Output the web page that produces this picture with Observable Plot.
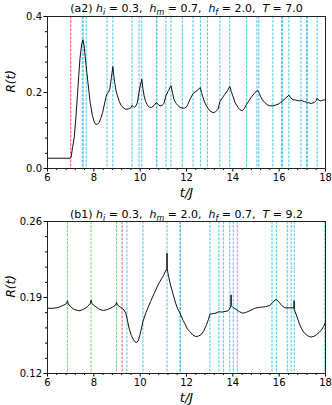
<!DOCTYPE html>
<html><head><meta charset="utf-8">
<script src="https://cdn.jsdelivr.net/npm/d3@7"></script>
<script src="https://cdn.jsdelivr.net/npm/@observablehq/plot@0.6"></script>
<style>body{margin:0;background:#fff}svg{display:block}</style>
</head><body><div id="chart"></div>
<script>
// ---------- data ----------
const tTop = [6.0,6.5,6.98,7.02,7.08,7.15,7.22,7.29,7.35,7.40,7.47,7.53,7.58,7.65,7.73,7.84,7.94,8.02,8.09,8.16,8.23,8.30,8.38,8.45,8.52,8.57,8.63,8.69,8.76,8.82,8.86,8.90,8.96,9.02,9.10,9.17,9.28,9.38,9.50,9.60,9.65,9.70,9.75,9.82,9.88,9.95,10.01,10.07,10.12,10.17,10.24,10.31,10.40,10.50,10.60,10.70,10.78,10.86,10.95,11.03,11.11,11.22,11.33,11.40,11.46,11.53,11.61,11.72,11.82,11.92,12.00,12.06,12.15,12.28,12.45,12.60,12.65,12.71,12.80,12.90,13.02,13.15,13.25,13.36,13.44,13.55,13.65,13.77,13.87,13.93,14.00,14.10,14.22,14.30,14.40,14.50,14.59,14.70,14.79,14.92,15.04,15.10,15.16,15.25,15.37,15.48,15.59,15.73,15.85,15.95,16.05,16.15,16.28,16.42,16.50,16.59,16.72,16.88,16.95,17.09,17.22,17.38,17.52,17.60,17.64,17.70,17.78,17.89,18.0];
const rTop = [0.027,0.027,0.027,0.030,0.055,0.080,0.130,0.191,0.245,0.288,0.325,0.339,0.323,0.280,0.235,0.174,0.139,0.122,0.116,0.117,0.121,0.132,0.147,0.167,0.187,0.197,0.200,0.209,0.240,0.268,0.245,0.226,0.205,0.191,0.176,0.167,0.159,0.156,0.157,0.160,0.166,0.163,0.161,0.165,0.174,0.200,0.220,0.235,0.210,0.191,0.176,0.167,0.161,0.161,0.166,0.174,0.168,0.165,0.166,0.172,0.191,0.205,0.218,0.198,0.182,0.173,0.167,0.161,0.159,0.159,0.162,0.169,0.182,0.197,0.205,0.213,0.200,0.187,0.172,0.161,0.151,0.147,0.149,0.156,0.176,0.186,0.195,0.205,0.216,0.203,0.191,0.173,0.161,0.155,0.152,0.158,0.169,0.179,0.187,0.197,0.205,0.203,0.195,0.183,0.174,0.168,0.165,0.165,0.167,0.169,0.173,0.178,0.185,0.193,0.186,0.181,0.180,0.178,0.179,0.176,0.174,0.171,0.174,0.179,0.185,0.180,0.178,0.180,0.181];
const redTop = [7.0];
const cyanTop = [7.50,7.54,7.67,8.57,8.82,9.65,9.95,10.07,10.70,10.72,11.11,11.33,11.82,12.28,12.60,12.90,13.44,13.87,14.59,15.04,15.12,15.73,16.10,16.15,16.42,16.94,17.18,17.22,17.64];

const tBot = [6.0,6.2,6.4,6.55,6.7,6.82,6.86,6.90,7.0,7.15,7.36,7.55,7.72,7.84,7.88,7.92,8.05,8.25,8.42,8.6,8.8,8.94,8.98,9.02,9.12,9.22,9.30,9.38,9.45,9.52,9.62,9.71,9.78,9.85,9.92,9.99,10.06,10.12,10.25,10.45,10.63,10.81,11.0,11.10,11.155,11.16,11.165,11.22,11.31,11.42,11.53,11.62,11.72,11.85,11.92,12.04,12.14,12.27,12.40,12.52,12.64,12.75,12.86,12.95,13.01,13.10,13.22,13.32,13.40,13.51,13.60,13.70,13.79,13.86,13.92,13.925,13.93,14.0,14.07,14.18,14.28,14.43,14.55,14.65,14.80,14.94,15.10,15.23,15.40,15.59,15.73,15.82,15.88,15.95,16.02,16.12,16.24,16.39,16.64,16.645,16.65,16.74,16.89,17.00,17.10,17.23,17.36,17.50,17.61,17.72,17.83,17.92,18.0];
const rBot = [0.1802,0.1800,0.1805,0.1815,0.1830,0.1845,0.1870,0.1842,0.1815,0.1790,0.1777,0.1790,0.1815,0.1843,0.1875,0.1843,0.1820,0.1790,0.1780,0.1790,0.1810,0.1830,0.1855,0.1830,0.1815,0.1800,0.1785,0.1755,0.1690,0.1617,0.1550,0.1510,0.1490,0.1485,0.1505,0.1556,0.1620,0.1680,0.1760,0.1863,0.1950,0.2032,0.2100,0.2145,0.2168,0.2308,0.2168,0.2100,0.2016,0.1930,0.1848,0.1795,0.1755,0.1690,0.1663,0.1610,0.1587,0.1555,0.1540,0.1545,0.1560,0.1595,0.1648,0.1700,0.1746,0.1750,0.1754,0.1760,0.1770,0.1765,0.1770,0.1772,0.1777,0.1795,0.1826,0.1924,0.1826,0.1810,0.1800,0.1785,0.1770,0.1755,0.1762,0.1770,0.1785,0.1800,0.1808,0.1811,0.1815,0.1826,0.1857,0.1875,0.1884,0.1868,0.1850,0.1825,0.1805,0.1805,0.1805,0.1870,0.1790,0.1740,0.1648,0.1600,0.1570,0.1548,0.1535,0.1542,0.1557,0.1577,0.1602,0.1635,0.1672];
const greenBot = [6.86,7.88,8.98];
const redBot = [9.22];
const cyanBot = [9.43,10.12,11.16,11.72,11.74,13.01,13.40,13.60,13.87,14.02,14.19,15.69,15.88,16.35,16.52,16.65,17.97];

const xTicks = [6,8,10,12,14,16,18];
const xMinor = [6.4,6.8,7.2,7.6,8.4,8.8,9.2,9.6,10.4,10.8,11.2,11.6,12.4,12.8,13.2,13.6,14.4,14.8,15.2,15.6,16.4,16.8,17.2,17.6];
const yTicksTop = [0,0.2,0.4];
const yMinorTop = [0.04,0.08,0.12,0.16,0.24,0.28,0.32,0.36];
const yTicksBot = [0.12,0.19,0.26];
const yMinorBot = [0.134,0.148,0.162,0.176,0.204,0.218,0.232,0.246];

const titleTop = [["(a2) ",""],["h","i"],["i","s"],[" = 0.3,  ",""],["h","i"],["m","s"],[" = 0.7,  ",""],["h","i"],["f","s"],[" = 2.0,  ",""],["T","i"],[" = 7.0",""]];
const titleBot = [["(b1) ",""],["h","i"],["i","s"],[" = 0.3,  ",""],["h","i"],["m","s"],[" = 2.0,  ",""],["h","i"],["f","s"],[" = 0.7,  ",""],["T","i"],[" = 9.2",""]];

const CYAN = "#33bdf2", RED = "#f45a5a", GREEN = "#5cd05c";
const FONT = "DejaVu Sans";

function panel({t, r, height, marginTop, titleDy, yDomain, yTicks, yMinor, yFmt, lines, title}) {
  const plain = title.map(d => d[0]).join("");
  const svg = Plot.plot({
    width: 332, height, marginLeft: 47, marginRight: 7, marginTop, marginBottom: 32,
    style: {fontFamily: FONT, fontSize: "10px", color: "#000", background: "#fff"},
    x: {domain: [6, 18], label: null},
    y: {domain: yDomain, label: null},
    marks: [
      ...lines.map(([vals, col, w]) => Plot.ruleX(vals, {x: d => d, stroke: col, strokeWidth: w, strokeDasharray: "2.8,1.3"})),
      Plot.line(t.map((d, i) => [d, r[i]]), {x: d => d[0], y: d => d[1], stroke: "#111", strokeWidth: 1}),
      Plot.axisX(xTicks, {tickSize: 3.5, tickPadding: 1.5, stroke: "#000", label: null, fontSize: 10}),
      Plot.axisX(xMinor, {tickSize: 2, tickFormat: () => "", stroke: "#000", label: null}),
      Plot.axisY(yTicks, {tickSize: 3.5, tickPadding: 2, tickFormat: d3.format(yFmt), stroke: "#000", label: null, fontSize: 10}),
      Plot.axisY(yMinor, {tickSize: 2, tickFormat: () => "", stroke: "#000", label: null}),
      Plot.frame({stroke: "#222", strokeWidth: 1}),
      Plot.text([plain], {frameAnchor: "top", lineAnchor: "middle", dy: titleDy, fontSize: 11, fill: "#000"}),
      Plot.text(["R(t)"], {frameAnchor: "left", lineAnchor: "middle", dx: -36, rotate: -90, fontSize: 12, fontStyle: "italic", fill: "#000"}),
      Plot.text(["t/J"], {frameAnchor: "bottom", lineAnchor: "middle", dy: 24, fontSize: 13, fontStyle: "italic", fill: "#000"})
    ]
  });
  d3.select(svg).selectAll("text").filter(function() { return this.textContent === plain; }).each(function() {
    const el = d3.select(this).text(null).style("white-space", "pre");
    let shifted = false;
    for (const [s, k] of title) {
      const ts = el.append("tspan").text(s);
      if (k === "i") ts.attr("font-style", "italic");
      if (k === "s") { ts.attr("font-style", "italic").attr("font-size", 8).attr("dy", 2.5); shifted = true; }
      else if (shifted) { ts.attr("dy", -2.5); shifted = false; }
    }
  });
  return svg;
}

const root = document.getElementById("chart");
root.appendChild(panel({t: tTop, r: rTop, height: 200, marginTop: 16, titleDy: -8, yDomain: [0, 0.4], yTicks: yTicksTop, yMinor: yMinorTop, yFmt: ".1f",
  lines: [[cyanTop, CYAN, 0.9], [redTop, RED, 1.1]], title: titleTop}));
root.appendChild(panel({t: tBot, r: rBot, height: 205, marginTop: 21, titleDy: -7, yDomain: [0.12, 0.26], yTicks: yTicksBot, yMinor: yMinorBot, yFmt: ".2f",
  lines: [[cyanBot, CYAN, 0.9], [greenBot, GREEN, 0.9], [redBot, RED, 1.0]], title: titleBot}));
</script></body></html>
